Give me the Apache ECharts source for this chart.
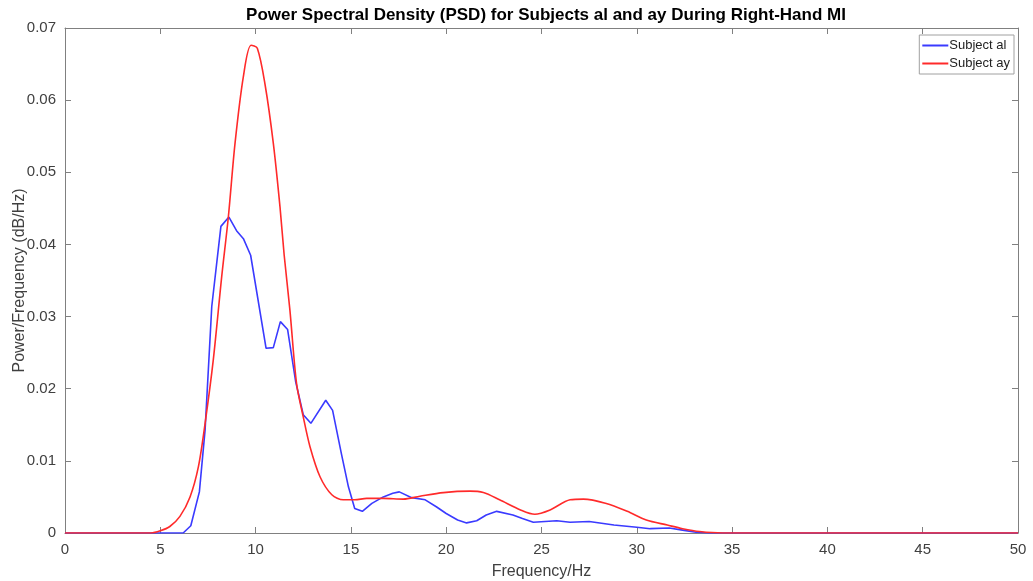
<!DOCTYPE html>
<html>
<head>
<meta charset="utf-8">
<script src="https://cdn.jsdelivr.net/npm/echarts@6/dist/echarts.min.js"></script>
<style>html,body{margin:0;padding:0;background:#fff}#c{width:1033px;height:581px}</style>
</head>
<body>
<div id="c"></div>
<script>
const titleText = 'Power Spectral Density (PSD) for Subjects al and ay During Right-Hand MI';
const xName = 'Frequency/Hz';
const yName = 'Power/Frequency (dB/Hz)';
const seriesNames = ['Subject al', 'Subject ay'];

const alFreq = [0, 6.2, 6.6, 7.05, 7.35, 7.7, 8.18, 8.6, 9.0, 9.36, 9.74, 10.55, 10.93, 11.3, 11.68, 12.1, 12.5, 12.9, 13.68, 14.04, 14.5, 14.87, 15.2, 15.6, 16.1, 16.7, 17.2, 17.54, 18.19, 18.9, 19.5, 20.0, 20.6, 21.07, 21.6, 22.1, 22.65, 23.5, 24.0, 24.57, 25.8, 26.5, 27.5, 28.8, 30.0, 30.7, 31.7, 32.4, 33.1, 33.8, 50];
const alPsd = [0, 0, 0.001, 0.0057, 0.0143, 0.0314, 0.0425, 0.0438, 0.0419, 0.0408, 0.0385, 0.0256, 0.0257, 0.0293, 0.0282, 0.021, 0.0164, 0.0152, 0.0184, 0.017, 0.011, 0.0064, 0.0034, 0.003, 0.0041, 0.005, 0.0055, 0.0057, 0.0049, 0.0046, 0.0036, 0.0027, 0.0018, 0.0014, 0.0017, 0.0025, 0.003, 0.0025, 0.002, 0.0015, 0.0017, 0.0015, 0.0016, 0.0011, 0.0008, 0.0006, 0.0007, 0.0004, 0.0001, 0, 0];

const ayFreq = [0, 4.5, 5.0, 5.5, 6.03, 6.56, 7.0, 7.35, 7.78, 8.22, 8.57, 8.92, 9.36, 9.76, 10.09, 10.5, 10.93, 11.28, 11.5, 11.8, 12.15, 12.5, 12.85, 13.38, 14.0, 14.6, 15.2, 15.83, 16.7, 17.75, 18.62, 19.85, 21.25, 21.95, 22.8, 23.9, 24.65, 25.45, 26.5, 27.2, 28.4, 29.5, 30.5, 31.6, 32.4, 33.3, 34.5, 50];
const ayPsd = [0, 0, 0.0003, 0.0009, 0.0023, 0.005, 0.0092, 0.0152, 0.024, 0.0355, 0.0438, 0.054, 0.0633, 0.0676, 0.0672, 0.0621, 0.054, 0.0452, 0.0385, 0.0309, 0.0207, 0.0161, 0.012, 0.0078, 0.0053, 0.0046, 0.0046, 0.0048, 0.0048, 0.0047, 0.0051, 0.0056, 0.0058, 0.0056, 0.0046, 0.0032, 0.0026, 0.0032, 0.0046, 0.0047, 0.0041, 0.003, 0.0018, 0.0011, 0.0006, 0.0002, 0, 0];

const zip = (xs, ys) => xs.map((x, i) => [x, ys[i]]);
const axisCol = '#808080';
const textCol = '#404040';
const font = 'Liberation Sans, Arial, sans-serif';

const chart = echarts.init(document.getElementById('c'), null, {renderer: 'canvas'});
chart.setOption({
  animation: false,
  backgroundColor: '#fff',
  textStyle: {fontFamily: font},
  title: {
    text: titleText, left: 541, top: 2, textAlign: 'center',
    textStyle: {fontSize: 17, fontWeight: 'bold', color: '#000', fontFamily: font}
  },
  legend: {
    orient: 'vertical', right: 19, top: 35,
    data: seriesNames,
    icon: 'rect', itemWidth: 26, itemHeight: 2, itemGap: 5,
    padding: [4, 4, 4, 3],
    borderColor: '#a0a0a0', borderWidth: 1, borderRadius: 0,
    backgroundColor: '#fff',
    textStyle: {fontSize: 13, color: '#222', fontFamily: font, padding: [0, 0, 0, -4]}
  },
  grid: {left: 65, right: 15, top: 28, bottom: 48, containLabel: false, outerBoundsMode: 'none'},
  xAxis: [{
    type: 'value', min: 0, max: 50, interval: 5,
    name: xName, nameLocation: 'middle', nameGap: 31, nameMoveOverlap: false,
    nameTextStyle: {fontSize: 16, color: textCol},
    axisLine: {show: true, onZero: false, lineStyle: {color: axisCol}},
    axisTick: {show: true, inside: true, length: 6, lineStyle: {color: axisCol}},
    axisLabel: {fontSize: 15, color: textCol, margin: 9},
    splitLine: {show: false}
  }, {
    type: 'value', min: 0, max: 50, interval: 5, position: 'top',
    axisLine: {show: true, onZero: false, lineStyle: {color: axisCol}},
    axisTick: {show: true, inside: true, length: 6, lineStyle: {color: axisCol}},
    axisLabel: {show: false}, splitLine: {show: false}
  }],
  yAxis: [{
    type: 'value', min: 0, max: 0.07, interval: 0.01,
    name: yName, nameLocation: 'middle', nameGap: 37, nameRotate: 90, nameMoveOverlap: false,
    nameTextStyle: {fontSize: 16, color: textCol},
    axisLine: {show: true, onZero: false, lineStyle: {color: axisCol}},
    axisTick: {show: true, inside: true, length: 6, lineStyle: {color: axisCol}},
    axisLabel: {fontSize: 15, color: textCol, margin: 9,
      formatter: v => v === 0 ? '0' : v.toFixed(2)},
    splitLine: {show: false}
  }, {
    type: 'value', min: 0, max: 0.07, interval: 0.01, position: 'right',
    axisLine: {show: true, onZero: false, lineStyle: {color: axisCol}},
    axisTick: {show: true, inside: true, length: 6, lineStyle: {color: axisCol}},
    axisLabel: {show: false}, splitLine: {show: false}
  }],
  series: [{
    name: seriesNames[0], type: 'line', showSymbol: false, symbol: 'none',
    data: zip(alFreq, alPsd), color: '#3a3aff',
    lineStyle: {width: 1.6, color: '#3a3aff'}
  }, {
    name: seriesNames[1], type: 'line', showSymbol: false, symbol: 'none',
    smooth: 0.3,
    data: zip(ayFreq, ayPsd), color: '#ff2a2a',
    lineStyle: {width: 1.6, color: '#ff2a2a'}
  }]
});
</script>
</body>
</html>
